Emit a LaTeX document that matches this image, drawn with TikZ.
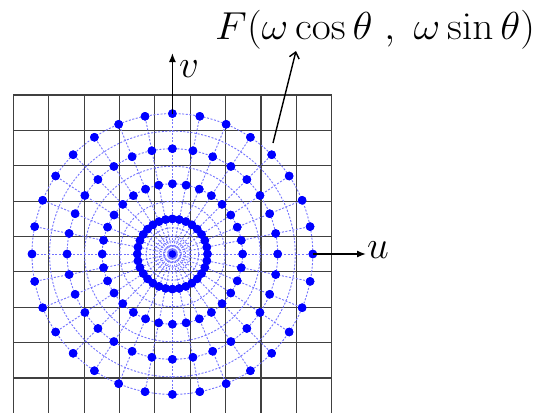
\documentclass[tikz,border=0pt]{standalone}
\usepackage{graphicx}
\usetikzlibrary{arrows.meta}
\newcommand{\biglbl}[1]{\scalebox{1.567}{\Huge #1}}
\newcommand{\widelbl}[1]{\scalebox{1.66}[1.567]{\Huge #1}}
\begin{document}
\begin{tikzpicture}[x=1pt,y=-1pt,
  gridline/.style={draw=black!75, line width=1.1pt},
  polar/.style={draw=blue!55, line width=0.9pt, dash pattern=on 2pt off 1.6pt},
  sample/.style={circle, fill=blue, inner sep=0pt, minimum size=8.6pt},
  axis/.style={draw=black, line width=1.4pt, -{Latex[length=9pt,width=7pt]}},
  callout/.style={draw=black, line width=1.4pt, -{Straight Barb[length=6pt,width=10pt]}},
  lbl/.style={inner sep=0pt}]
\useasboundingbox (0,0) rectangle (534,412);
% Cartesian grid
\begin{scope}
\clip (0,0) rectangle (534,412);
\foreach \i in {0,...,9} {
  \draw[gridline] ({13.3+\i*35.38},95) -- ({13.3+\i*35.38},414);
  \draw[gridline] (13.3,{95+\i*35.38}) -- (331.7,{95+\i*35.38});
}
\end{scope}
% polar sampling
\coordinate (O) at (172.4,254);
\node[sample] (d0) at (O) {};
\foreach \k in {1,...,4}
  \foreach \j in {0,...,31}
    \node[sample] (d\k-\j) at ([shift={({\j*11.25}:{\k*35.1pt})}]O) {};
\foreach \r in {4.4,8.8,13.2,17.55,26.3,35.1,52.65,70.2,87.75,105.3,122.85,140.4}
  \draw[polar] (O) circle[radius=\r pt];
\foreach \j in {0,...,31}
  \draw[polar] (d0.center) -- (d4-\j.center);
% redraw dots on top
\fill[blue] (d0.center) circle[radius=3.6pt];
\foreach \k in {1,...,4}
  \foreach \j in {0,...,31}
    \fill[blue] (d\k-\j.center) circle[radius=4.3pt];
% axes
\coordinate (vtip) at (172.4,53);
\coordinate (utip) at (366,254);
\draw[axis] (d4-8.center) -- (vtip);
\draw[axis] (d4-0.center) -- (utip);
\node[lbl, anchor=base west] (v) at (179,77) {\biglbl{$v$}};
\node[lbl, anchor=base west] (u) at (367,258) {\biglbl{$u$}};
% label F
\node[lbl, anchor=base west] (F) at (215,40) {\widelbl{$F(\omega\cos\theta\;,\;\omega\sin\theta)$}};
\coordinate (fs) at (273,143);
\coordinate (fe) at (296,51);
\draw[callout] (fs) -- (fe);
\end{tikzpicture}
\end{document}
